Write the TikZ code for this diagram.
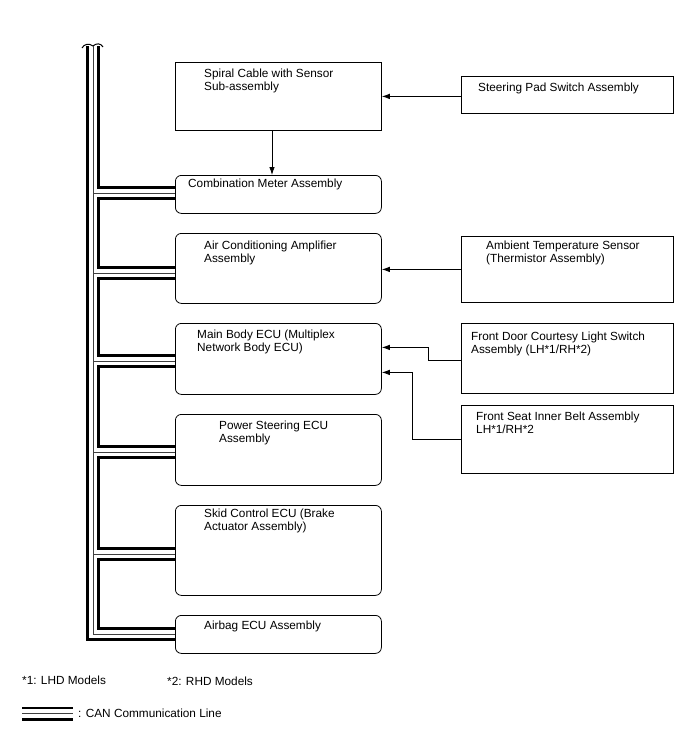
\documentclass[tikz,border=0pt]{standalone}
\usepackage{fontspec}
\setmainfont{Liberation Sans}
\usetikzlibrary{arrows.meta,calc}
\begin{document}
\begin{tikzpicture}[x=1pt,y=-1pt,
  box/.style={draw, line width=0.8pt, inner sep=0pt, anchor=north west},
  rbox/.style={box, rounded corners=6pt},
  lbl/.style={anchor=base west, inner sep=0pt, font=\fontsize{11.8}{13.6}\selectfont, align=left},
  arr/.style={line width=0.8pt, -{Latex[length=8pt,width=5.5pt]}},
  canthick/.style={line width=2.8pt, line join=miter},
  canthin/.style={line width=1pt, black!75, line join=miter}]
\useasboundingbox (0,0) rectangle (688,755);

% boxes
\node[box,  minimum width=206pt, minimum height=68pt] (spiral) at (175,62) {};
\node[box,  minimum width=212pt, minimum height=37pt] (pad)    at (461,76) {};
\node[rbox, minimum width=206pt, minimum height=38pt] (comb)   at (175,175) {};
\node[rbox, minimum width=206pt, minimum height=70pt] (ac)     at (175,233) {};
\node[box,  minimum width=212pt, minimum height=66pt] (amb)    at (461,236) {};
\node[rbox, minimum width=206pt, minimum height=71pt] (main)   at (175,323) {};
\node[box,  minimum width=212pt, minimum height=70pt] (door)   at (461,323) {};
\node[box,  minimum width=212pt, minimum height=68pt] (seat)   at (461,405) {};
\node[rbox, minimum width=206pt, minimum height=71pt] (ps)     at (175,414) {};
\node[rbox, minimum width=206pt, minimum height=90pt] (skid)   at (175,505) {};
\node[rbox, minimum width=206pt, minimum height=38pt] (airbag) at (175,615) {};

% labels (base = baseline of the last line)
\node[lbl] (tspiral) at (204,90.6)  {Spiral Cable with Sensor\\Sub-assembly};
\node[lbl] (tpad)    at (478,91)  {Steering Pad Switch Assembly};
\node[lbl] (tcomb)   at (188,187.5) {Combination Meter Assembly};
\node[lbl] (tac)     at (204,262.6) {Air Conditioning Amplifier\\Assembly};
\node[lbl] (tamb)    at (486,262.6) {Ambient Temperature Sensor\\(Thermistor Assembly)};
\node[lbl] (tmain)   at (197,351.6) {Main Body ECU (Multiplex\\Network Body ECU)};
\node[lbl] (tdoor)   at (471,353.6) {Front Door Courtesy Light Switch\\Assembly (LH*1/RH*2)};
\node[lbl] (tseat)   at (476,433.6) {Front Seat Inner Belt Assembly\\LH*1/RH*2};
\node[lbl] (tps)     at (219,442.6) {Power Steering ECU\\Assembly};
\node[lbl] (tskid)   at (204,530.6) {Skid Control ECU (Brake\\Actuator Assembly)};
\node[lbl] (tairbag) at (204,629) {Airbag ECU Assembly};
\node[lbl] (tl1)     at (22,684)  {*1: LHD Models};
\node[lbl] (tl2)     at (167,685) {*2: RHD Models};
\node[lbl] (tcan)    at (78,717)  {: CAN Communication Line};

% arrows
\coordinate (padarr) at ($(pad.west)+(0,1.5)$);
\coordinate (doorarr) at ($(door.west)+(0,1.5)$);
\coordinate (mainin1) at ($(main.east)+(0,-11.5)$);
\coordinate (mainin2) at ($(main.east)+(0,13.5)$);
\coordinate (spiralout) at (272,130);
\draw[arr] (padarr) -- (padarr -| spiral.east);
\draw[arr] (spiral.south -| spiralout) -- (comb.north -| spiralout);
\draw[arr] (amb.west) -- (amb.west -| ac.east);
\draw[arr] (doorarr) -- ++(-33,0) |- (mainin1);
\draw[arr] (seat.west) -- ++(-49,0) |- (mainin2);

% CAN bus
\draw[line width=1pt] (82,48) .. controls (84,44) and (89,43) .. (93,46)
   .. controls (96,43) and (101,43) .. (103,47);
\draw[canthick] (87.5,46) -- (87.5,639.5) -- (175,639.5);
\draw[canthin]  (93,46) -- (93,634) -- (175,634);
\draw[canthick] (98.5,46) -- (98.5,187.5) -- (175,187.5);
\foreach \a/\b in {193/273, 273/361, 361/452, 452/554, 554/634}{
  \draw[canthick] (175,\a+5.5) -- (98.5,\a+5.5) -- (98.5,\b-5.5) -- (175,\b-5.5);
}
\foreach \a in {193, 273, 361, 452, 554}{
  \draw[canthin] (93,\a) -- (175,\a);
}

% legend line
\draw[canthick] (22,708) -- (73,708);
\draw[canthin]  (22,713.7) -- (73,713.7);
\draw[canthick] (22,719.5) -- (73,719.5);
\end{tikzpicture}
\end{document}
